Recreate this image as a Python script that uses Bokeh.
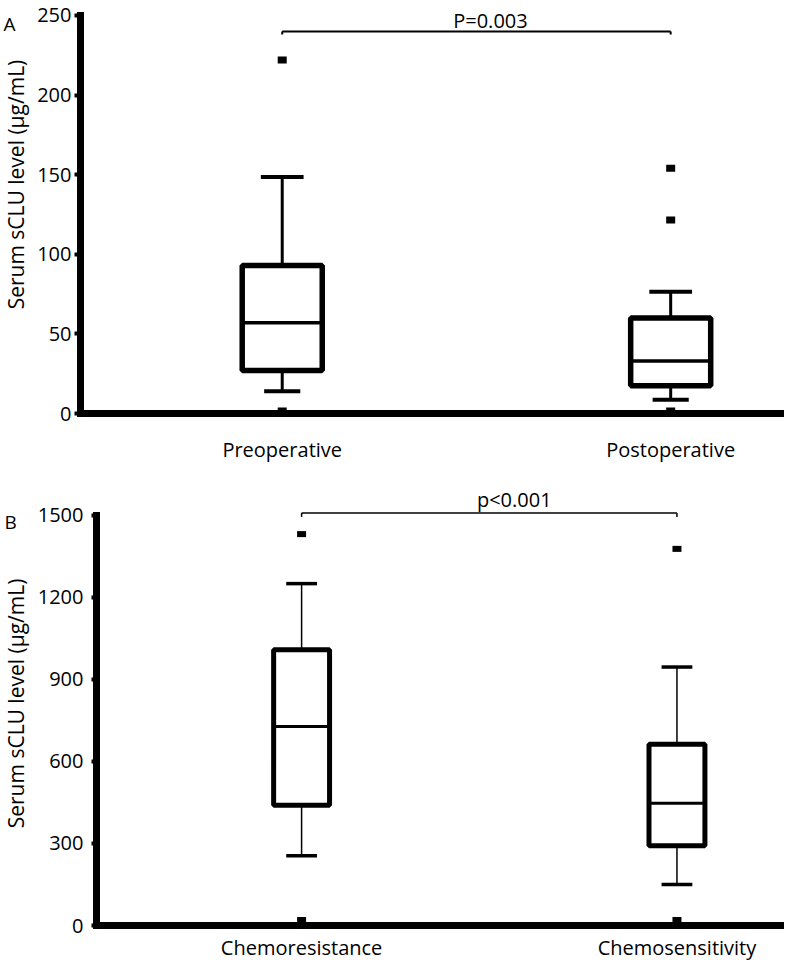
import numpy as np
from bokeh.plotting import figure
from bokeh.models import Range1d, FixedTicker, ColumnDataSource
from bokeh.layouts import column, row
from bokeh.core.properties import value
from bokeh.embed import file_html
from bokeh.resources import INLINE

FONT = "Open Sans"

# ---------------- data: panel A ----------------
groups_a = ["Preoperative", "Postoperative"]
q1_a = [27, 17.5]
median_a = [57, 33]
q3_a = [93, 60]
lower_a = [14, 8.6]
upper_a = [148.5, 76.5]
outlier_group_a = ["Preoperative", "Preoperative", "Postoperative", "Postoperative", "Postoperative"]
outlier_value_a = [222, 1.5, 154, 121.5, 1.5]
ticks_a = [0, 50, 100, 150, 200, 250]
p_text_a = "P=0.003"

# ---------------- data: panel B ----------------
groups_b = ["Chemoresistance", "Chemosensitivity"]
q1_b = [440, 292]
median_b = [728, 447]
q3_b = [1008, 663]
lower_b = [255, 150]
upper_b = [1250, 945]
outlier_group_b = ["Chemoresistance", "Chemoresistance", "Chemosensitivity", "Chemosensitivity"]
outlier_value_b = [1431, 20, 1377, 20]
ticks_b = [0, 300, 600, 900, 1200, 1500]
p_text_b = "p<0.001"

axis_title = "Serum sCLU level (\u00b5g/mL)"
SIDE_W = 34


def side_panel(letter, height, cfg):
    """Narrow strip left of the axis holding the panel letter and the y-axis title."""
    s = figure(width=SIDE_W, height=height, x_range=Range1d(0, SIDE_W),
               y_range=Range1d(0, height), x_axis_type=None, y_axis_type=None,
               output_backend="svg", toolbar_location=None)
    s.min_border = 0
    s.outline_line_color = None
    s.background_fill_color = "white"
    s.border_fill_color = "white"
    s.text(x=[cfg["let_x"]], y=[height - cfg["let_y"]], text=[letter],
           text_align="left", text_baseline="alphabetic",
           text_font=value(FONT), text_font_size="19px", text_color="black")
    s.text(x=[cfg["title_x"]], y=[height - cfg["title_y"]], text=[axis_title],
           angle=np.pi / 2, text_align="center", text_baseline="middle",
           text_font=value(FONT), text_font_size="21px", text_color="black")
    return s


def make_panel(groups, q1, med, q3, lo, hi, og, ov, ticks, ptext, cfg):
    pos = np.arange(len(groups), dtype=float)
    gpos = {g: i for i, g in enumerate(groups)}
    p = figure(width=784 - SIDE_W, height=cfg["height"],
               x_range=Range1d(cfg["xs"], cfg["xe"]), y_range=Range1d(0, cfg["yend"]),
               output_backend="svg", toolbar_location=None,
               min_border_left=cfg["bl"], min_border_right=0,
               min_border_top=cfg["bt"], min_border_bottom=cfg["bb"])
    p.outline_line_color = None
    p.xgrid.visible = False
    p.ygrid.visible = False
    p.background_fill_color = "white"
    p.border_fill_color = "white"

    bw = cfg["box_w"]
    src = ColumnDataSource(dict(x=pos, q1=q1, med=med, q3=q3, lo=lo, hi=hi,
                                bl=pos - bw / 2, br=pos + bw / 2,
                                ctl=pos - cfg["cap_top"] / 2, ctr=pos + cfg["cap_top"] / 2,
                                cbl=pos - cfg["cap_bot"] / 2, cbr=pos + cfg["cap_bot"] / 2))
    p.segment(x0="x", y0="q3", x1="x", y1="hi", source=src, line_color="black",
              line_width=cfg["stem_lw"])
    p.segment(x0="x", y0="q1", x1="x", y1="lo", source=src, line_color="black",
              line_width=cfg["stem_lw"])
    p.segment(x0="ctl", y0="hi", x1="ctr", y1="hi", source=src, line_color="black",
              line_width=cfg["cap_lw"])
    p.segment(x0="cbl", y0="lo", x1="cbr", y1="lo", source=src, line_color="black",
              line_width=cfg["cap_lw"])
    p.quad(left="bl", right="br", top="q3", bottom="q1", source=src, fill_color="white",
           line_color="black", line_width=cfg["box_lw"])
    p.segment(x0="bl", y0="med", x1="br", y1="med", source=src, line_color="black",
              line_width=cfg["med_lw"])
    osrc = ColumnDataSource(dict(x=[gpos[g] for g in og], v=ov))
    p.rect(x="x", y="v", width=9, height=cfg["out_h"], width_units="screen",
           height_units="screen", source=osrc, fill_color="black", line_color=None)

    # significance bracket
    by = cfg["bracket_y"]
    p.segment(x0=[pos[0]], y0=[by], x1=[pos[-1]], y1=[by], line_color="black",
              line_width=cfg["br_lw"])
    p.segment(x0=pos, y0=[by] * len(pos), x1=pos, y1=[by - cfg["br_tick"]] * len(pos),
              line_color="black", line_width=cfg["br_lw"])
    p.text(x=[pos.mean()], y=[by], text=[ptext], x_offset=cfg["ptx"], y_offset=cfg["pty"],
           text_align="center", text_baseline="alphabetic",
           text_font=value(FONT), text_font_size="20px", text_color="black")

    yax = p.yaxis[0]
    yax.ticker = FixedTicker(ticks=ticks)
    yax.bounds = (ticks[0], ticks[-1])
    yax.axis_line_width = 7
    yax.axis_line_cap = "square"
    yax.major_tick_line_width = 4
    yax.major_tick_out = cfg["tick_out"]
    yax.major_tick_in = 0
    yax.minor_tick_line_color = None
    yax.major_label_standoff = cfg["tick_standoff"]
    yax.major_label_text_font = FONT
    yax.major_label_text_font_size = "20px"
    yax.major_label_text_color = "black"

    xax = p.xaxis[0]
    xax.ticker = FixedTicker(ticks=list(pos))
    xax.major_label_overrides = {int(i): g for i, g in enumerate(groups)}
    xax.axis_line_width = 7
    xax.axis_line_cap = "square"
    xax.major_tick_line_color = None
    xax.major_tick_out = 0
    xax.major_tick_in = 0
    xax.minor_tick_line_color = None
    xax.major_label_standoff = cfg["x_standoff"]
    xax.major_label_text_font = FONT
    xax.major_label_text_font_size = "20px"
    xax.major_label_text_color = "black"
    return p


# figure A spans page y 8..476, figure B 476..971
H_A, H_B = 468, 495
cfg_a = dict(height=H_A, xs=-0.5193, xe=1.2930, yend=256.9, bl=79 - SIDE_W, bt=4, bb=55,
             box_w=0.206, stem_lw=3, cap_lw=4, cap_top=0.11, cap_bot=0.093,
             box_lw=5.5, med_lw=3.5, out_h=7, bracket_y=240, br_lw=2, br_tick=2,
             ptx=14, pty=-11, tick_out=6, tick_standoff=3, x_standoff=22,
             let_x=3, let_y=22, title_x=15, title_y=206)
cfg_b = dict(height=H_B, xs=-0.5464, xe=1.2865, yend=1627, bl=93 - SIDE_W, bt=12, bb=36,
             box_w=0.149, stem_lw=1.5, cap_lw=3.5, cap_top=0.082, cap_bot=0.082,
             box_lw=5, med_lw=3, out_h=6, bracket_y=1508, br_lw=1.5, br_tick=14,
             ptx=25, pty=-14, tick_out=5, tick_standoff=8, x_standoff=8,
             let_x=4, let_y=46, title_x=15, title_y=248)

pa = make_panel(groups_a, q1_a, median_a, q3_a, lower_a, upper_a,
                outlier_group_a, outlier_value_a, ticks_a, p_text_a, cfg_a)
pb = make_panel(groups_b, q1_b, median_b, q3_b, lower_b, upper_b,
                outlier_group_b, outlier_value_b, ticks_b, p_text_b, cfg_b)
sa = side_panel("A", H_A, cfg_a)
sb = side_panel("B", H_B, cfg_b)

layout = column(row(sa, pa, spacing=0), row(sb, pb, spacing=0), spacing=0)
open("out.html", "w").write(file_html(layout, INLINE))
